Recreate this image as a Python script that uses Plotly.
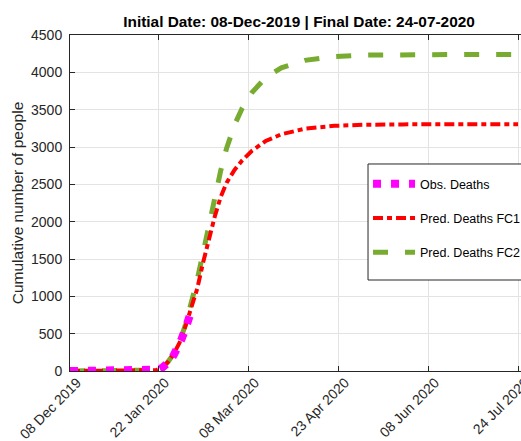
import plotly.graph_objects as go

# Observed cumulative deaths
obs_dates = ["2019-12-08", "2019-12-18", "2019-12-28", "2020-01-07", "2020-01-11",
             "2020-01-17", "2020-01-20", "2020-01-22", "2020-01-24", "2020-01-26",
             "2020-01-28", "2020-01-30", "2020-02-01", "2020-02-03", "2020-02-05",
             "2020-02-07", "2020-02-08"]
obs_vals = [0, 0, 0, 0, 1, 2, 4, 17, 41, 80, 132, 213, 304, 425, 563, 722, 806]

# Predicted curves
pred_dates = ["2019-12-08", "2019-12-28", "2020-01-17", "2020-01-21", "2020-01-24",
              "2020-01-27", "2020-01-30", "2020-02-02", "2020-02-05", "2020-02-08",
              "2020-02-11", "2020-02-14", "2020-02-17", "2020-02-20", "2020-02-23",
              "2020-02-26", "2020-03-01", "2020-03-05", "2020-03-10", "2020-03-17",
              "2020-03-25", "2020-04-06", "2020-04-21", "2020-05-06", "2020-05-26",
              "2020-06-25", "2020-07-24"]
fc1_vals = [0, 0, 2, 12, 40, 120, 230, 380, 600, 850, 1100, 1450, 1780, 2070, 2330,
            2520, 2690, 2820, 2950, 3080, 3170, 3245, 3283, 3298, 3303, 3305, 3305]
fc2_vals = [0, 0, 2, 12, 40, 120, 230, 390, 620, 900, 1220, 1580, 1960, 2340, 2680,
            2980, 3290, 3520, 3730, 3930, 4060, 4160, 4210, 4230, 4238, 4240, 4240]

tick_dates = ["2019-12-08", "2020-01-22", "2020-03-08", "2020-04-23", "2020-06-08", "2020-07-24"]
tick_text = ["08 Dec 2019", "22 Jan 2020", "08 Mar 2020", "23 Apr 2020", "08 Jun 2020", "24 Jul 2020"]
y_ticks = [0, 500, 1000, 1500, 2000, 2500, 3000, 3500, 4000, 4500]

title_text = "<b>Initial Date: 08-Dec-2019 | Final Date: 24-07-2020</b>"
FONT = "Liberation Sans, Arial, sans-serif"
AX = "#262626"

fig = go.Figure()
fig.add_trace(go.Scatter(x=pred_dates, y=fc2_vals, mode="lines", name="Pred. Deaths FC2",
                         line=dict(color="#77AC30", width=5, dash="15px,17px"),
                         legendrank=3, legendgroup="c"))
fig.add_trace(go.Scatter(x=pred_dates, y=fc1_vals, mode="lines", name="Pred. Deaths FC1",
                         line=dict(color="#FF0000", width=4, dash="10px,4px,5px,4px"),
                         legendrank=2, legendgroup="b"))
fig.add_trace(go.Scatter(x=obs_dates, y=obs_vals, mode="lines", name="Obs. Deaths",
                         line=dict(color="#FF00FF", width=8, dash="8px,10px"),
                         legendrank=1, legendgroup="a"))

# legend frame (drawn as a box so its padding can match the reference)
fig.add_shape(type="rect", xref="paper", yref="paper",
              x0=0.6608, x1=1.05, y0=0.2708, y1=0.6161,
              fillcolor="white", line=dict(color=AX, width=1), layer="above")

fig.update_layout(
    width=521, height=441,
    margin=dict(l=70, r=0, t=35, b=70, autoexpand=False),
    paper_bgcolor="white", plot_bgcolor="white",
    font=dict(family=FONT, color=AX, size=14),
    title=dict(text=title_text, x=0.574, xanchor="center", y=0.950, yanchor="middle",
               font=dict(family=FONT, size=15.4, color="black")),
    legend=dict(x=0.6608, y=0.601, xanchor="left", yanchor="top",
                bgcolor="rgba(0,0,0,0)", borderwidth=0,
                font=dict(family=FONT, size=12.5, color="black"),
                tracegroupgap=15, itemwidth=42),
    showlegend=True,
)
fig.update_xaxes(
    range=["2019-12-08", "2020-07-25 12:00"],
    tickvals=tick_dates, ticktext=tick_text, tickangle=-45,
    tickfont=dict(size=14, color=AX), ticklabelstandoff=-3, ticklabelshift=7,
    ticklabeloverflow="allow",
    showgrid=True, gridcolor="#e3e3e3", gridwidth=1,
    showline=True, linecolor=AX, linewidth=1, mirror="ticks",
    ticks="inside", ticklen=5, tickcolor=AX,
    zeroline=False, automargin=False,
)
fig.update_yaxes(
    range=[0, 4500], tickvals=y_ticks,
    tickfont=dict(size=14, color=AX),
    showgrid=True, gridcolor="#e3e3e3", gridwidth=1,
    showline=True, linecolor=AX, linewidth=1,
    ticks="inside", ticklen=5, tickcolor=AX,
    zeroline=False, automargin=False, ticklabelstandoff=4,
    title=dict(text="Cumulative number of people", font=dict(size=15.5, color=AX), standoff=3),
)

fig.write_html("out.html",
               config={"displayModeBar": False},
               post_script="document.body.style.margin='0';document.body.style.overflow='hidden';")
